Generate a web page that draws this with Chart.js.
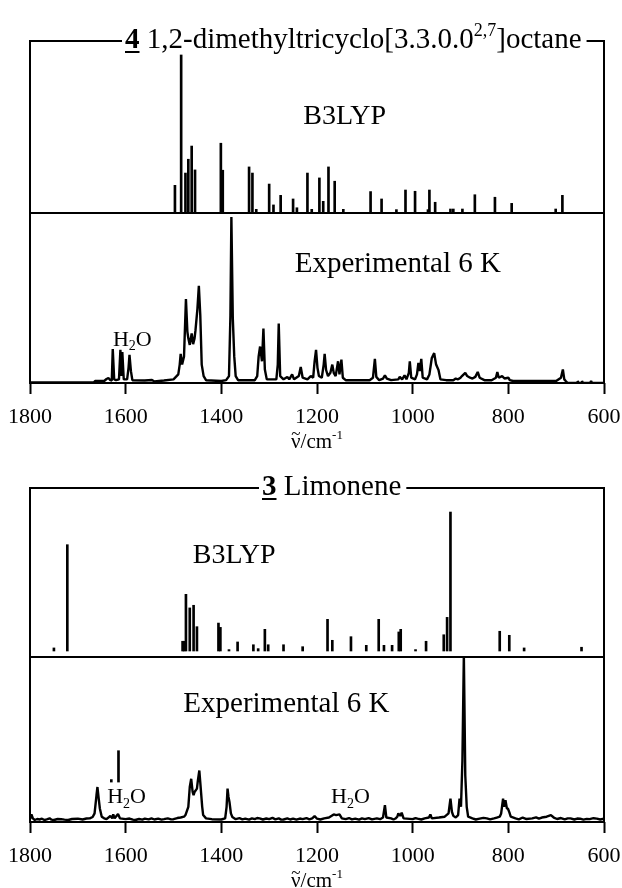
<!DOCTYPE html>
<html>
<head>
<meta charset="utf-8">
<script src="https://cdn.jsdelivr.net/npm/chart.js@4.4.1/dist/chart.umd.min.js"></script>
<style>
  html, body { margin: 0; padding: 0; background: #fff; }
  #wrap { position: relative; width: 622px; height: 888px; }
  canvas { position: absolute; left: 0; }
</style>
</head>
<body>
<div id="wrap">
  <canvas id="chart4" width="622" height="450" style="top:0"></canvas>
  <canvas id="chart3" width="622" height="438" style="top:450px"></canvas>
</div>
<script>
const FONT = '"Liberation Serif", "Times New Roman", serif';
const tickValues = [1800, 1600, 1400, 1200, 1000, 800, 600];

// 4 - 1,2-dimethyltricyclo[3.3.0.0^2,7]octane, B3LYP sticks
const calc4Freq = [1497, 1484, 1475, 1469, 1462, 1455, 1401, 1397, 1342, 1335, 1327, 1300, 1291, 1276, 1250, 1242,
  1220, 1211, 1195, 1187, 1176, 1163, 1145, 1088, 1065, 1034, 1015, 995, 968, 965, 953, 921, 915, 896, 870, 828, 793, 701, 687];
const calc4Int = [17, 100, 24.8, 33.6, 42, 26.8, 43.8, 26.6, 28.7, 24.8, 1.7, 17.8, 4.5, 10.6, 8.3, 2.7,
  24.8, 1.7, 21.7, 6.8, 28.7, 19.6, 1.7, 13, 8.3, 1.5, 14, 13.2, 1.5, 14, 6.2, 1.9, 1.9, 1.9, 11, 9.4, 5.5, 1.9, 10.6];

// 4 - experimental spectrum at 6 K
const exp4Freq = [1800, 1667, 1664, 1645, 1640, 1636, 1632, 1629, 1627, 1624, 1620, 1614, 1611, 1609, 1607, 1604,
  1597, 1594, 1592, 1589, 1586, 1560, 1545, 1540, 1520,
  1500, 1490, 1487, 1485, 1482, 1478, 1474, 1471, 1469, 1466, 1462, 1459, 1456, 1454, 1450, 1447, 1444, 1441, 1437, 1432,
  1400, 1390, 1384, 1381, 1379, 1376, 1373, 1370, 1365,
  1330, 1325, 1322, 1319, 1315, 1312, 1309, 1305,
  1285, 1282, 1280, 1277, 1270, 1262, 1258, 1252, 1248, 1238, 1234, 1230, 1220, 1213, 1208, 1205, 1202, 1199, 1196,
  1190, 1186, 1184, 1181, 1177, 1172, 1168, 1165, 1161, 1156, 1153, 1149, 1146, 1140,
  1090, 1083, 1079, 1076, 1070, 1062, 1058, 1054, 1045, 1030, 1027, 1022, 1017, 1013, 1008, 1006, 1003, 995, 991, 988,
  985, 982, 979, 970, 965, 960, 955, 951, 946, 942,
  930, 915, 910, 905, 900, 897, 890, 886, 880, 875, 869, 864, 860, 850, 835, 826, 823, 820, 813, 808, 800, 797, 790,
  700, 690, 686, 683, 680, 676, 656, 655, 653, 647, 646, 644, 629, 627, 625, 600];
const exp4Int = [-0.9, -0.9, 0, 0, 1.2, 1.8, 0.5, 0.3, 19.5, 1, 0.5, 1, 19, 3, 17.7, 1,
  1, 8, 16, 6, 0.5, 0.3, 0.6, -0.3, 0.3,
  1, 4, 10, 16.5, 10, 15, 50, 30, 26, 22, 29, 22.5, 26, 31, 44, 58, 40, 10, 3, 0.5,
  0, 0.5, 3, 40, 100, 38, 15, 3, 0.5,
  0.5, 3, 15, 21, 12, 32, 7, 1,
  1, 10, 35, 3, 1, 2.5, 1, 4, 1, 3, 8.5, 2, 1, 3, 2, 12, 19, 8, 3,
  2, 10, 16.5, 6.7, 3, 5, 10, 5, 3, 12, 4, 13, 2, 0.5,
  0.5, 2, 13.5, 2.5, 0.5, 1.5, 3.5, 1.5, 0.5, 1, 2.5, 1, 3.5, 1, 5, 12, 2, 1, 4, 11,
  6, 13.5, 2, 1, 4, 14, 17, 10, 6.7, 1,
  0.5, 0.5, 1.5, 1, 2, 3, 5, 3, 2, 1.5, 2.5, 5.5, 2, 0.5, 0.5, 2, 5.5, 2, 3, 1.5, 2, 0.5, 0,
  0, 2, 7, 1, 0, -1.2, -1.2, 0, -1.2, -1.2, 0, -1.2, -1.2, 0, -1.2, -1.2];

// 3 - limonene, B3LYP sticks
const calc3Freq = [1750, 1722, 1481, 1478, 1474, 1466, 1458, 1451, 1406, 1402, 1384, 1366, 1333, 1323, 1309, 1302,
  1270, 1230, 1178, 1168, 1129, 1097, 1071, 1060, 1043, 1029, 1025, 994, 972, 935, 928, 921, 818, 798, 767, 647];
const calc3Int = [2.2, 76.5, 7, 7, 40.8, 31, 32.9, 17.5, 20.1, 17, 1, 6.5, 4.5, 1.7, 15.6, 4.5,
  4.5, 3.1, 22.8, 7.7, 10.3, 4.1, 22.8, 4.1, 4.1, 13.7, 15.6, 1, 7, 11.7, 24.2, 100, 14.2, 11.3, 2.2, 2.7];

// 3 - experimental spectrum at 6 K
const exp3Freq = [
  1800, 1797, 1794, 1790, 1785, 1780, 1775, 1770, 1765, 1759, 1755, 1750, 1742, 1735, 1728, 1720, 1712, 1700, 1690, 1682, 1675, 1669, 1665, 1661, 1659,
  1656, 1654, 1650, 1645, 1640, 1632, 1628, 1626, 1623, 1616, 1612, 1600, 1592, 1585, 1580, 1572, 1565, 1560, 1552, 1546, 1540, 1532, 1525, 1520, 1512, 1505, 1500, 1492,
  1485, 1478, 1475, 1469, 1466, 1463, 1460, 1458, 1456, 1451, 1449, 1446, 1443, 1440, 1438, 1432, 1420,
  1400, 1392, 1389, 1387, 1385, 1383, 1380, 1377, 1370, 1362, 1356, 1350, 1342, 1336, 1330, 1325, 1320, 1313, 1306, 1300,
  1293, 1287, 1280, 1275, 1270, 1262, 1256, 1250, 1243, 1236, 1230, 1222, 1216, 1210, 1205, 1200, 1193, 1185,
  1175, 1165, 1160, 1153, 1148, 1140, 1133, 1127, 1120, 1112, 1106, 1100, 1092, 1085, 1075, 1068, 1062, 1058, 1055,
  1045, 1040, 1036, 1032, 1030, 1026, 1023, 1019, 1000, 994, 990, 982, 975, 966, 963, 960, 945, 933,
  925, 921, 918, 915, 910, 905, 902, 899, 896, 893, 890, 887, 884, 875, 868, 860, 852, 845, 838, 830, 824,
  818, 815, 811, 809, 806, 803, 801, 798, 795, 785, 778, 770, 762, 750, 742, 736, 730, 720, 711, 705,
  698, 690, 682, 676, 670, 662, 656, 650, 643, 636, 630, 622, 615, 608, 600];
const exp3Int = [
  0.5, 3.4, 1, 0, 0.6, 0.3, 0.8, 0, 0.4, 1, 0.2, 0, 0.6, 0.5, 0.2, 0, 0.6, 0.8, 0.3, 0.9, 1, 1.8, 4, 15, 20,
  12, 7, 2, 1, 0.5, 2.4, 1, 3.4, 1, 3.6, 1, 0.5, 0.9, 0.2, 0, 0.6, 0.2, 0.8, 0.4, 1, 0.3, 0.8, 0.2, 0.5, 1, 0.4, 0.5, 1.2,
  1.5, 2, 3, 8, 20, 25, 17, 15, 17, 19, 24, 30, 19, 8, 3, 1, 0.5,
  0.3, 1, 8, 19, 14, 11, 4, 1.8, 0.5, 1.1, 0.4, 0.8, 0.2, 1, 0.5, 1.2, 1, 0.3, 0.9, 0.5,
  1.3, 0.4, 1, 0.2, 0.3, 1, 0.3, 0.8, 0.2, 0.9, 0.5, 1.2, 0.4, 1, 2.4, 0.8, 0.3, 1,
  1.5, 3.4, 3, 3.4, 1, 0.5, 1.2, 0.4, 0.8, 0.2, 1, 0.5, 1.2, 0.4, 1, 0.5, 1.5, 9, 1.5,
  1, 0.3, 0.9, 2, 4, 2.5, 4.4, 1, 0.5, 1.2, 0.8, 0.3, 1, 1.5, 3.4, 1, 1.5, 2,
  4, 13, 5, 2.5, 1.5, 3, 13, 8, 36, 100, 27, 8, 2, 1, 0.3, 0.8, 1.3, 1, 0.4, 1, 1.5,
  2, 4, 13, 8, 12, 7, 7, 4.8, 2, 1, 0.4, 1.5, 0.6, 1, 1.6, 0.8, 1.5, 2, 3, 1.5,
  0.6, 1.2, 0.4, 1, 1, 0.3, 0.9, 0.8, 0.2, 0.7, 0.5, 1.1, 0.8, 0.3, 0.8];

// 3 - short marks above the left H2O label
const water3Freq = [1615, 1630];
const water3Low = [23, 23];
const water3High = [42, 24.5];

function pairs(xs, ys) {
  return xs.map((x, i) => ({ x: x, y: ys[i] }));
}

function runFont(r, size) {
  const s = (r.sup || r.sub) ? Math.round(size * 0.62) : size;
  return (r.bold ? 'bold ' : '') + s + 'px ' + FONT;
}

function runsWidth(ctx, runs, size) {
  let w = 0;
  for (const r of runs) {
    ctx.font = runFont(r, size);
    w += ctx.measureText(r.t).width;
  }
  return w;
}

function drawRuns(ctx, runs, x, base, size) {
  for (const r of runs) {
    ctx.font = runFont(r, size);
    const dy = r.sup ? -size * 0.42 : (r.sub ? size * 0.22 : 0);
    ctx.fillText(r.t, x, base + dy);
    const w = ctx.measureText(r.t).width;
    if (r.underline) ctx.fillRect(x, base + 3, w, 2);
    if (r.tilde) {
      // wavenumber tilde above the nu
      ctx.font = Math.round(size * 0.8) + 'px ' + FONT;
      const tw = ctx.measureText('~').width;
      ctx.fillText('~', x + w / 2 - tw / 2, base - size * 0.42);
    }
    x += w;
  }
  return x;
}

// frame, title, in-plot labels and axis title
const framePlugin = {
  id: 'frame',
  afterDraw(chart, args, opts) {
    const ctx = chart.ctx;
    const a = chart.chartArea;
    const sc = chart.scales;
    ctx.save();
    ctx.fillStyle = '#000';
    ctx.strokeStyle = '#000';
    ctx.textAlign = 'left';
    ctx.textBaseline = 'alphabetic';

    const tEnd = drawRuns(ctx, opts.title, opts.titleX, a.top + 7, opts.titleSize);

    ctx.lineWidth = 2;
    ctx.beginPath();
    ctx.moveTo(opts.titleX - 3, a.top);
    ctx.lineTo(a.left, a.top);
    ctx.lineTo(a.left, a.bottom);
    ctx.lineTo(a.right, a.bottom);
    ctx.lineTo(a.right, a.top);
    ctx.lineTo(tEnd + 5, a.top);
    ctx.moveTo(a.left, sc.yTop.bottom);
    ctx.lineTo(a.right, sc.yTop.bottom);
    ctx.stroke();

    for (const lb of opts.labels) {
      const w = runsWidth(ctx, lb.runs, lb.size);
      const cx = sc.x.getPixelForValue(lb.x);
      const cy = sc[lb.axis].getPixelForValue(lb.y);
      drawRuns(ctx, lb.runs, cx - w / 2, cy + lb.size * 0.33, lb.size);
    }

    const axisTitle = [{ t: 'ν', tilde: true }, { t: '/cm' }, { t: '-1', sup: true }];
    const aw = runsWidth(ctx, axisTitle, 21);
    drawRuns(ctx, axisTitle, (a.left + a.right) / 2 - aw / 2, a.bottom + 65, 21);
    ctx.restore();
  }
};

function makePanel(id, p) {
  const datasets = [
    {
      type: 'bar',
      data: pairs(p.calcFreq, p.calcInt),
      yAxisID: 'yTop',
      backgroundColor: '#000',
      borderWidth: 0,
      barThickness: 2,
      grouped: false
    },
    {
      type: 'line',
      data: pairs(p.expFreq, p.expInt),
      yAxisID: 'yBot',
      borderColor: '#000',
      borderWidth: 2.4,
      borderJoinStyle: 'bevel',
      pointRadius: 0,
      tension: 0,
      fill: false
    }
  ];
  if (p.marks) {
    datasets.push({
      type: 'bar',
      data: p.marks.freq.map((f, i) => ({ x: f, y: [p.marks.low[i], p.marks.high[i]] })),
      yAxisID: 'yBot',
      backgroundColor: '#000',
      borderWidth: 0,
      barThickness: 2,
      grouped: false
    });
  }

  const hiddenY = (range, weight, order) => ({
    type: 'linear',
    position: 'left',
    stack: 'panel',
    stackWeight: weight,
    weight: order,
    min: range[0],
    max: range[1],
    ticks: { display: false },
    grid: { display: false },
    border: { display: false },
    afterFit(s) { s.width = 0; }
  });

  return new Chart(document.getElementById(id), {
    type: 'bar',
    data: { datasets: datasets },
    options: {
      responsive: false,
      animation: false,
      layout: { padding: { left: 30, right: 18, top: p.top, bottom: 0 } },
      plugins: {
        legend: { display: false },
        tooltip: { enabled: false },
        frame: {
          title: p.title,
          titleX: p.titleX,
          titleSize: 29,
          labels: p.labels
        }
      },
      scales: {
        x: {
          type: 'linear',
          reverse: true,
          min: 600,
          max: 1800,
          offset: false,
          afterBuildTicks(s) { s.ticks = tickValues.map(v => ({ value: v })); },
          ticks: {
            color: '#000',
            font: { family: FONT, size: 22 },
            padding: 10,
            maxRotation: 0,
            autoSkip: false,
            callback: v => String(v)
          },
          grid: {
            offset: false,
            drawOnChartArea: false,
            drawTicks: true,
            tickLength: 11,
            tickWidth: 2,
            tickColor: '#000'
          },
          border: { display: false },
          afterFit(s) {
            s.height = p.xHeight;
            s.paddingLeft = 0;
            s.paddingRight = 0;
          }
        },
        yTop: hiddenY(p.topRange, p.weights[0], 2),
        yBot: hiddenY(p.botRange, p.weights[1], 1)
      }
    },
    plugins: [framePlugin]
  });
}

const h2o = [{ t: 'H' }, { t: '2', sub: true }, { t: 'O' }];

makePanel('chart4', {
  top: 41,
  xHeight: 67,
  title: [{ t: '4', bold: true, underline: true }, { t: ' 1,2-dimethyltricyclo[3.3.0.0' }, { t: '2,7', sup: true }, { t: ']octane' }],
  titleX: 125,
  calcFreq: calc4Freq,
  calcInt: calc4Int,
  expFreq: exp4Freq,
  expInt: exp4Int,
  topRange: [-0.64, 108.9],
  botRange: [-1.22, 102.4],
  weights: [172, 170],
  labels: [
    { runs: [{ t: 'B3LYP' }], size: 28, x: 1142, axis: 'yTop', y: 62 },
    { runs: [{ t: 'Experimental 6 K' }], size: 29, x: 1031, axis: 'yBot', y: 72 },
    { runs: h2o, size: 22, x: 1586, axis: 'yBot', y: 26 }
  ]
});

makePanel('chart3', {
  top: 38,
  xHeight: 66,
  title: [{ t: '3', bold: true, underline: true }, { t: ' Limonene' }],
  titleX: 262,
  calcFreq: calc3Freq,
  calcInt: calc3Int,
  expFreq: exp3Freq,
  expInt: exp3Int,
  marks: { freq: water3Freq, low: water3Low, high: water3High },
  topRange: [-4.32, 117.3],
  botRange: [-1.21, 98.8],
  weights: [169, 165],
  labels: [
    { runs: [{ t: 'B3LYP' }], size: 28, x: 1373, axis: 'yTop', y: 70 },
    { runs: [{ t: 'Experimental 6 K' }], size: 29, x: 1264, axis: 'yBot', y: 71.5 },
    { runs: h2o, size: 22, x: 1598, axis: 'yBot', y: 14.5 },
    { runs: h2o, size: 22, x: 1130, axis: 'yBot', y: 14.5 }
  ]
});
</script>
</body>
</html>
